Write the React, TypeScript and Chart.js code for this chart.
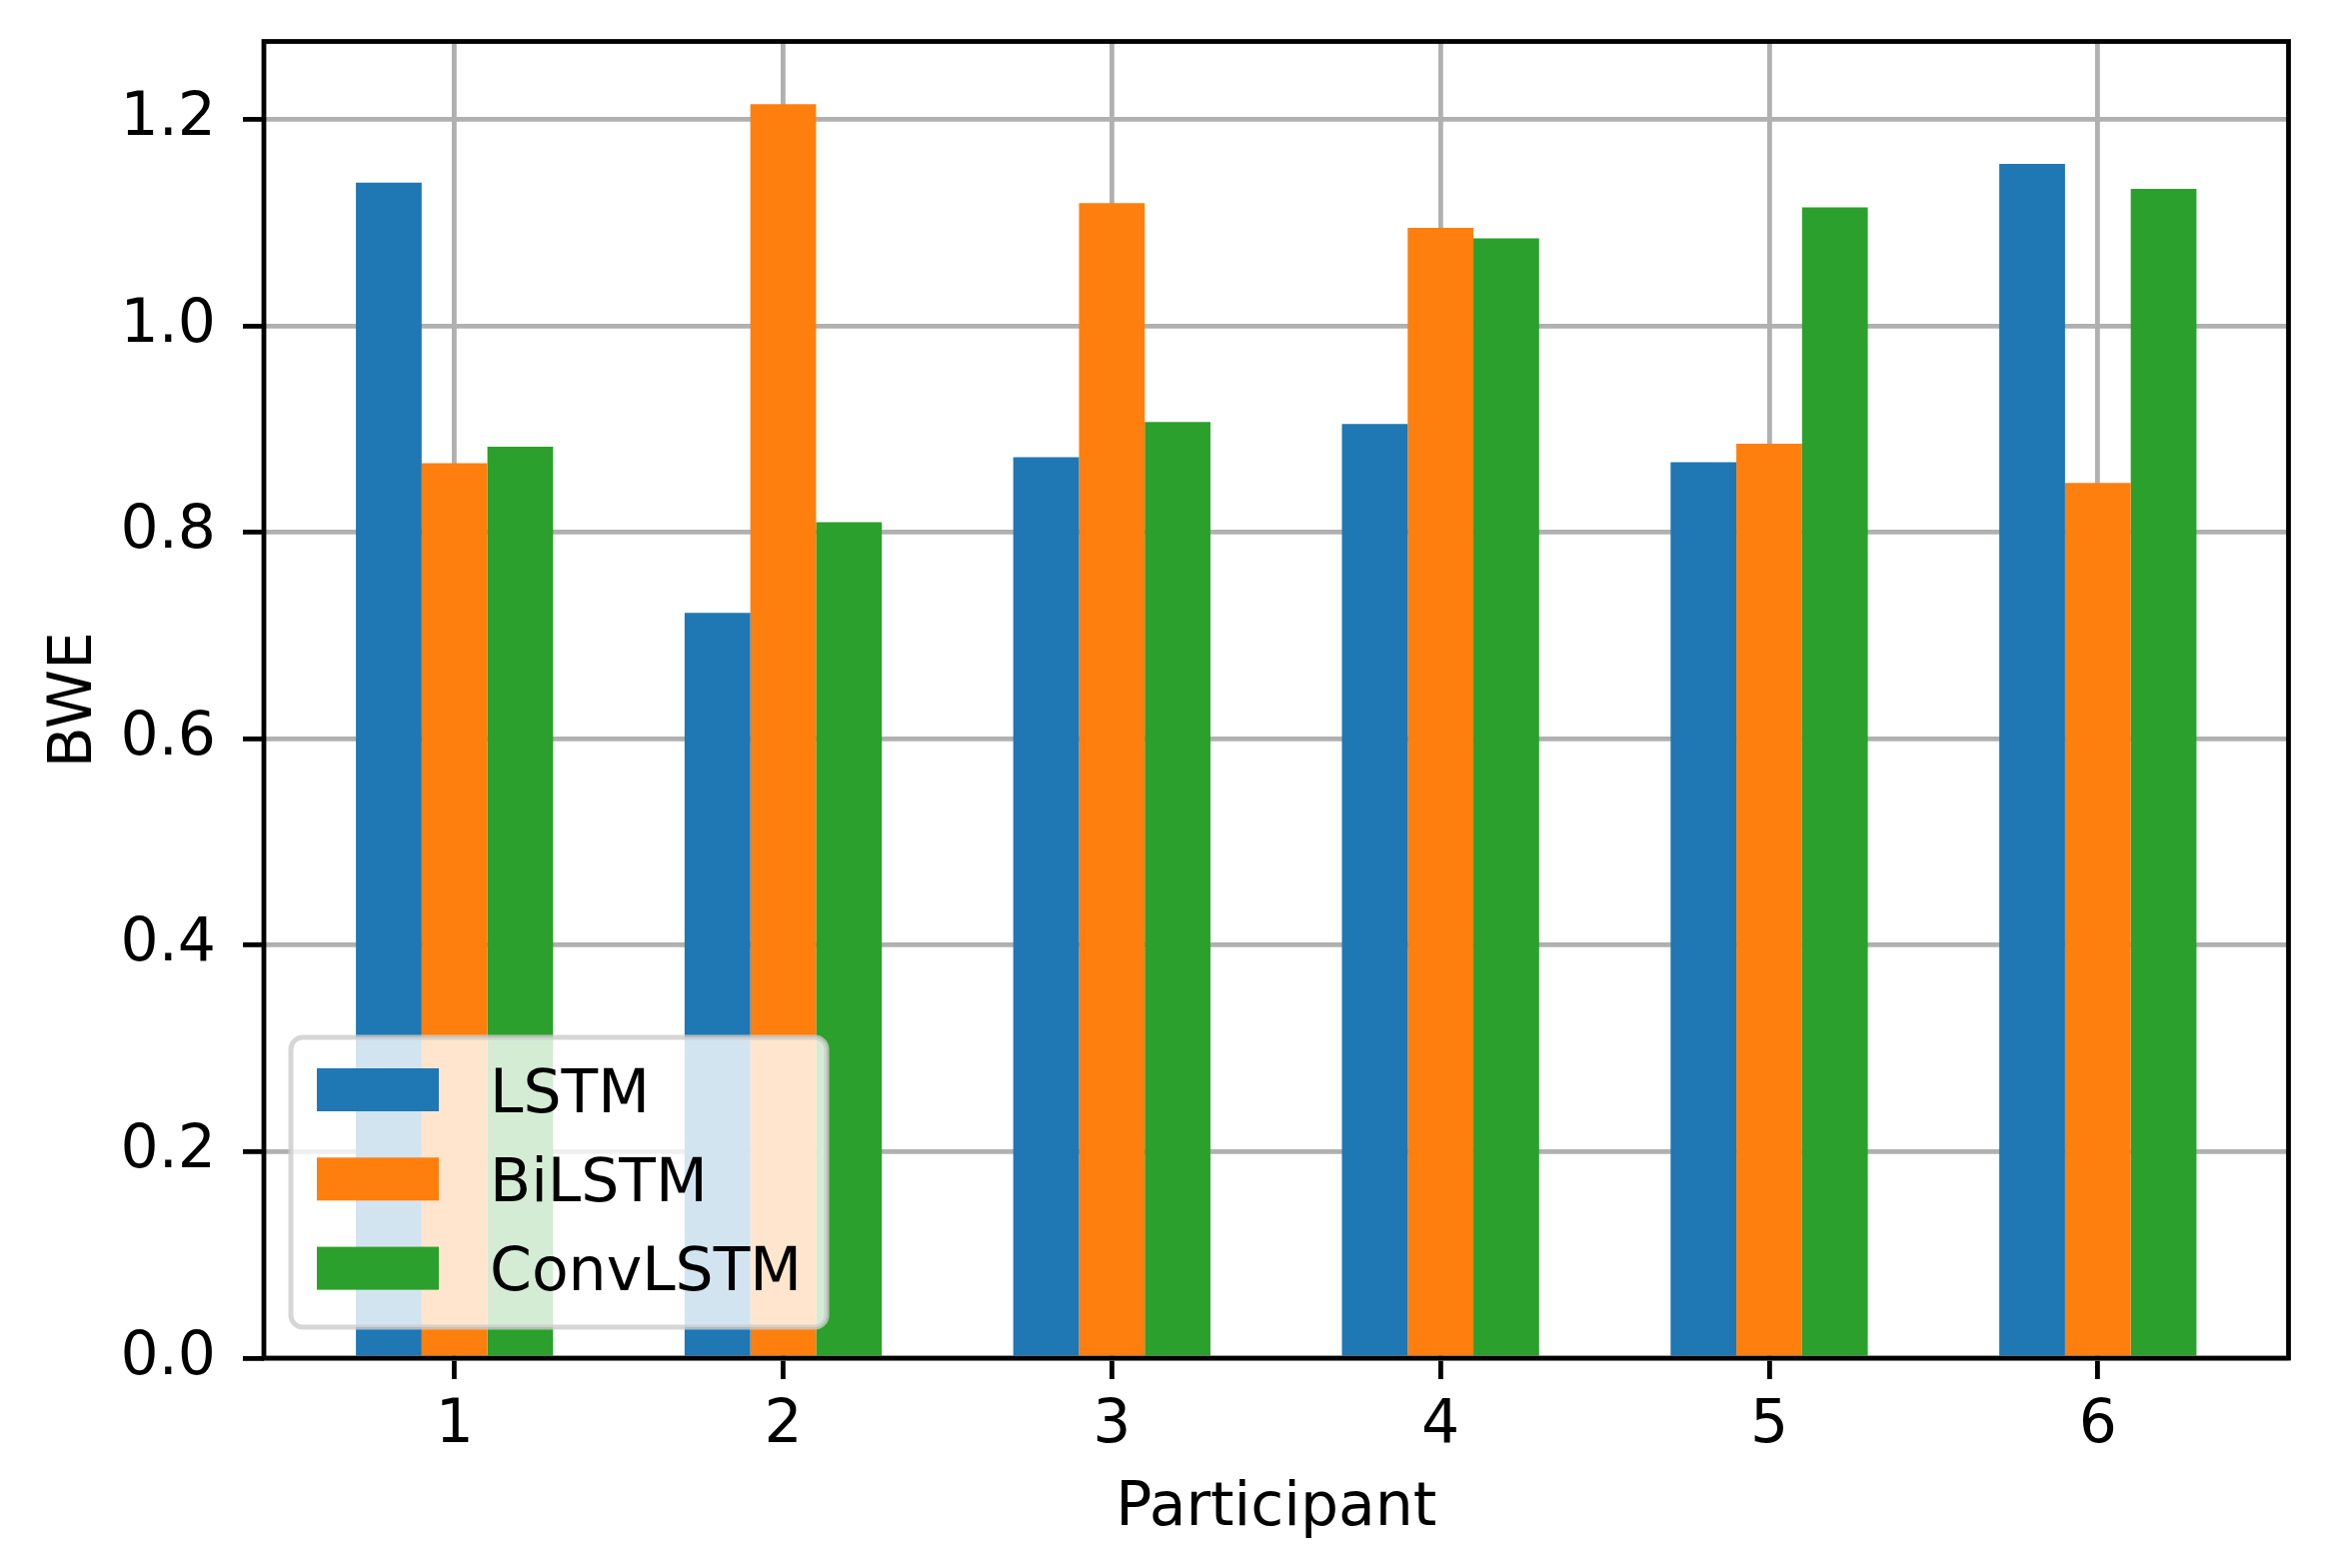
import { useEffect, useRef } from "react"
import { Chart, registerables } from "chart.js"

Chart.register(...registerables)

const participants = [1, 2, 3, 4, 5, 6]
const lstm = [1.139, 0.722, 0.873, 0.905, 0.868, 1.157]
const bilstm = [0.867, 1.215, 1.119, 1.095, 0.886, 0.848]
const convlstm = [0.883, 0.81, 0.907, 1.085, 1.115, 1.133]
const yTicks = [0, 0.2, 0.4, 0.6, 0.8, 1.0, 1.2]
const seriesNames = ["LSTM", "BiLSTM", "ConvLSTM"]
const seriesColors = ["#1f77b4", "#ff7f0e", "#2ca02c"]

const FONT = "DejaVu Sans"
const PT = 6 // pixels per point in the target picture

// frame around the axes + matplotlib-style legend in the lower left
const frameAndLegend = {
  id: "frameAndLegend",
  afterDraw(chart: Chart) {
    const { ctx, chartArea: a } = chart
    ctx.save()

    ctx.strokeStyle = "#000"
    ctx.lineWidth = 0.8 * PT
    ctx.strokeRect(a.left, a.top, a.right - a.left, a.bottom - a.top)

    const w = 536
    const h = 290
    const x = a.left + 27
    const y = a.bottom - 31 - h
    ctx.beginPath()
    ctx.roundRect(x, y, w, h, 12)
    ctx.fillStyle = "rgba(255,255,255,0.8)"
    ctx.fill()
    ctx.strokeStyle = "rgba(204,204,204,0.8)"
    ctx.lineWidth = 5
    ctx.stroke()

    ctx.font = `60px "${FONT}"`
    ctx.textBaseline = "alphabetic"
    ctx.textAlign = "left"
    chart.data.datasets.forEach((ds, i) => {
      const cy = y + 52.5 + i * 89.3
      ctx.fillStyle = ds.backgroundColor as string
      ctx.fillRect(x + 26, cy - 21.5, 122, 43)
      ctx.fillStyle = "#000"
      ctx.fillText(ds.label ?? "", x + 199, cy + 22)
    })
    ctx.restore()
  },
}

export default function App() {
  const chartRef = useRef<HTMLCanvasElement>(null)
  const chartInstance = useRef<Chart | null>(null)

  useEffect(() => {
    document.body.style.margin = "0"
    if (!chartRef.current) return
    if (chartInstance.current) chartInstance.current.destroy()

    const tickFont = { family: FONT, size: 60 }
    const series = [lstm, bilstm, convlstm]

    chartInstance.current = new Chart(chartRef.current, {
      type: "bar",
      data: {
        labels: participants,
        datasets: series.map((values, i) => ({
          label: seriesNames[i],
          data: values,
          backgroundColor: seriesColors[i],
          borderWidth: 0,
          barPercentage: 1,
          categoryPercentage: 0.6,
        })),
      },
      options: {
        animation: false,
        responsive: true,
        maintainAspectRatio: false,
        devicePixelRatio: 1,
        layout: { padding: { top: 41.5, right: 37.5, bottom: 0, left: 0 } },
        plugins: {
          legend: { display: false },
          tooltip: { enabled: false },
        },
        scales: {
          x: {
            type: "linear",
            min: 0.42,
            max: 6.58,
            offset: false,
            z: 1,
            afterBuildTicks: (s: any) => {
              s.ticks = participants.map((v) => ({ value: v }))
            },
            afterFit: (s: any) => {
              s.height = 210
              s.paddingLeft = 0
              s.paddingRight = 0
            },
            ticks: {
              callback: (v: any) => String(v),
              font: tickFont,
              color: "#000",
              padding: 11,
              autoSkip: false,
              maxRotation: 0,
            },
            grid: {
              offset: false,
              color: "#b0b0b0",
              lineWidth: 0.8 * PT,
              tickColor: "#000",
              tickWidth: 0.8 * PT,
              tickLength: 21,
            },
            border: { display: false },
            title: {
              display: true,
              text: "Participant",
              font: tickFont,
              color: "#000",
              padding: { top: 0, bottom: 23 },
            },
          },
          y: {
            min: 0,
            max: 1.2757,
            z: 1,
            afterBuildTicks: (s: any) => {
              s.ticks = yTicks.map((v) => ({ value: v }))
            },
            afterFit: (s: any) => {
              s.width = 264
              s.paddingTop = 0
              s.paddingBottom = 0
            },
            ticks: {
              callback: (v: any) => Number(v).toFixed(1),
              font: tickFont,
              color: "#000",
              padding: 27,
            },
            grid: {
              color: "#b0b0b0",
              lineWidth: 0.8 * PT,
              tickColor: "#000",
              tickWidth: 0.8 * PT,
              tickLength: 21,
            },
            border: { display: false },
            title: {
              display: true,
              text: "BWE",
              font: tickFont,
              color: "#000",
              padding: { top: 39, bottom: 0 },
            },
          },
        },
      },
      plugins: [frameAndLegend],
    })

    return () => {
      if (chartInstance.current) {
        chartInstance.current.destroy()
        chartInstance.current = null
      }
    }
  }, [])

  return (
    <div style={{ width: 2327, height: 1569, background: "#fff" }}>
      <canvas ref={chartRef}></canvas>
    </div>
  )
}
